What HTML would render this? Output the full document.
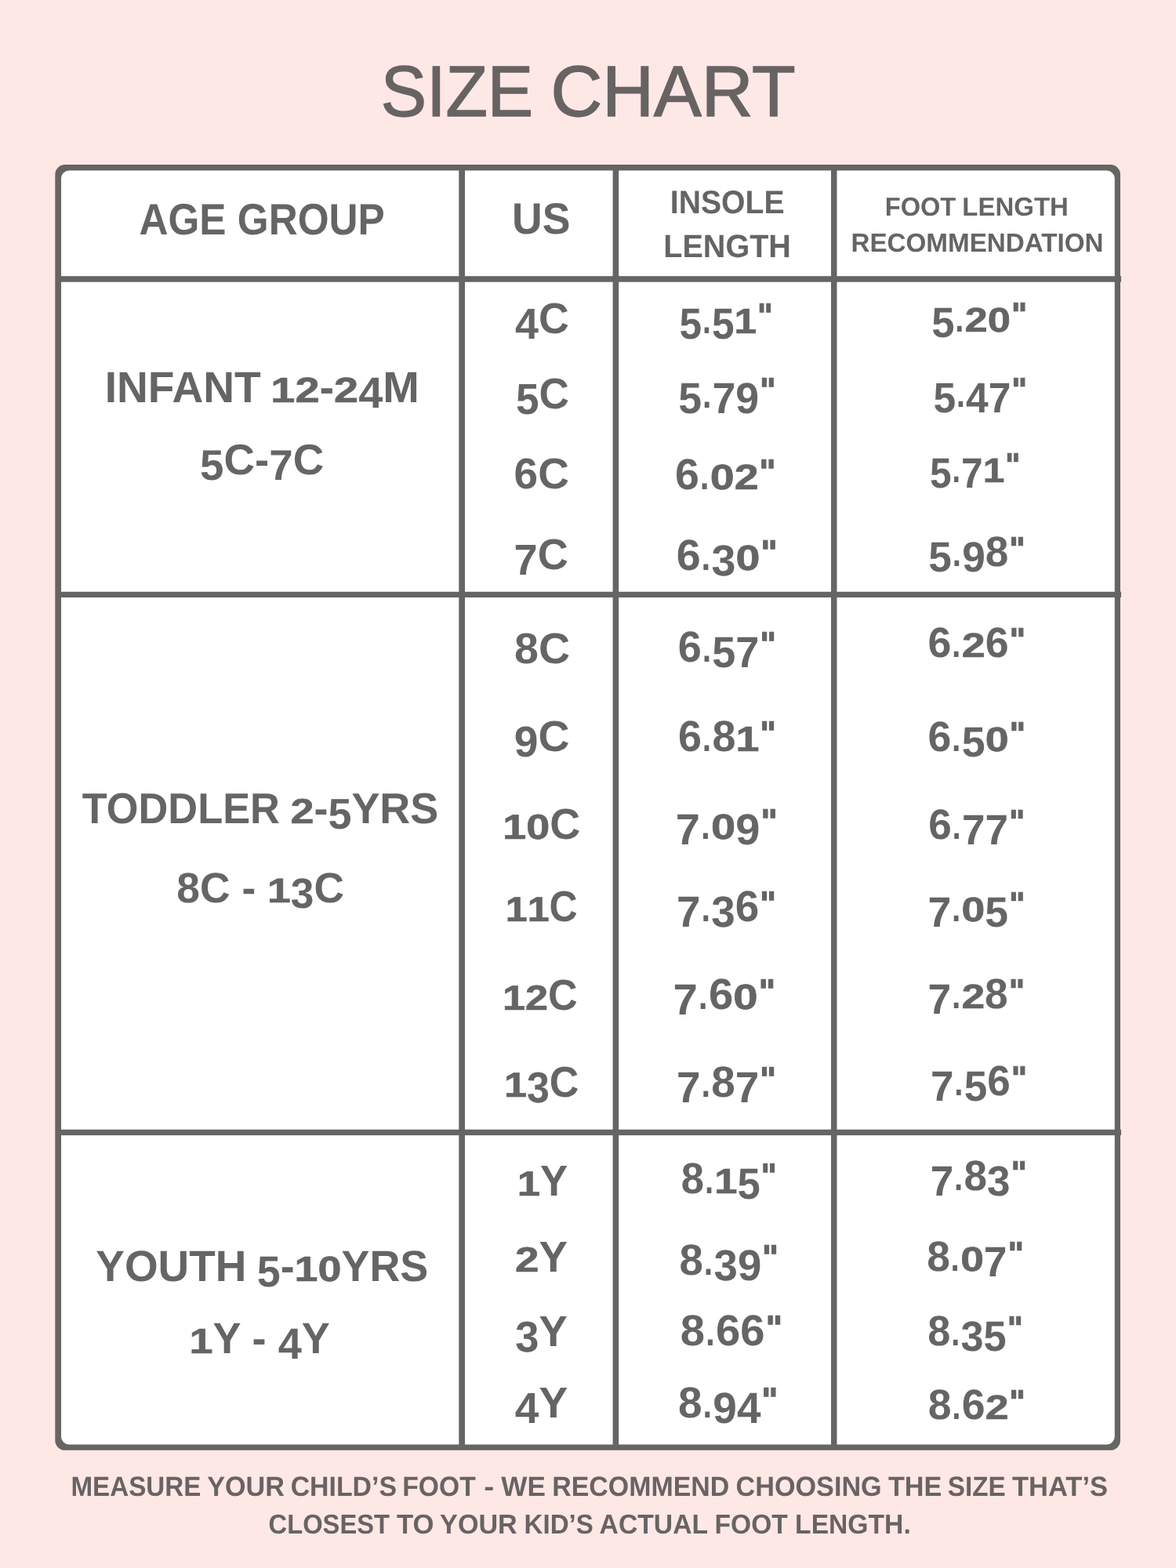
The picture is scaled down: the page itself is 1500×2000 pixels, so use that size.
<!DOCTYPE html>
<html lang="en">
<head>
<meta charset="utf-8">
<title>Size Chart</title>
<style>
html,body{margin:0;padding:0}
body{width:1500px;height:2000px;background:#fee8e6;position:relative;overflow:hidden;font-family:"Liberation Sans",sans-serif;color:#666464;text-rendering:geometricPrecision}
.grid{position:absolute;left:0;top:0;display:block}
.t{position:absolute;left:0;top:0;margin:0;white-space:nowrap;line-height:1;font-weight:700;transform-origin:0 0}
.tt{font-weight:400;color:#686363;-webkit-text-stroke:1.5px #686363}
.ft{color:#696363}
.w{display:inline-block;transform-origin:0 50%}
.x{display:inline-block;transform:scale(1,.81);transform-origin:50% 84.67%;-webkit-text-stroke:.8px #666464}
.d{position:relative;top:.128em}
.p{display:inline-block;transform:scale(.76,.9);transform-origin:50% 84.67%;margin:0 -.007em 0 -.0215em}
.q{display:inline-block;font-family:"DejaVu Sans","Liberation Sans",sans-serif;font-size:.705em;line-height:1;position:relative;top:-.23em;transform:scaleX(1.1);transform-origin:0 50%;-webkit-text-stroke:1.2px #666464}
</style>
</head>
<body>
<svg class="grid" width="1500" height="2000" viewBox="0 0 1500 2000" aria-hidden="true">
<rect x="74" y="214" width="1351" height="1632" rx="11" fill="#ffffff"/>
<path fill-rule="evenodd" fill="#676464" d="M82.8 210.0H1416.5A12.5 12.5 0 0 1 1429.0 222.5V1837.3A12.5 12.5 0 0 1 1416.5 1849.8H82.8A12.5 12.5 0 0 1 70.3 1837.3V222.5A12.5 12.5 0 0 1 82.8 210.0ZM88.2 217.4A10.2 10.2 0 0 0 78.0 227.6V1832.39A10.2 10.2 0 0 0 88.2 1842.6H1411.6A10.2 10.2 0 0 0 1421.8 1832.39V227.6A10.2 10.2 0 0 0 1411.6 217.4Z"/>
<g fill="#676464">
<rect x="585.3" y="214" width="7.7" height="1632"/>
<rect x="781.6" y="210" width="7.6" height="1636"/>
<rect x="1060" y="214" width="7.5" height="1632"/>
<rect x="72" y="352.2" width="1358" height="7.5"/>
<rect x="72" y="754.8" width="1358" height="7.3"/>
<rect x="72" y="1440.7" width="1358" height="7.4"/>
</g>
</svg>
<h1 class="t tt" style="font-size:91.70px;transform:translate(489.20px,71.95px)"><span class="w" style="transform:translateX(-3.38px) scaleX(0.9534)">SIZE</span> <span class="w" style="transform:translateX(-15.63px) scaleX(0.9933)">CHART</span></h1>
<div class="t" style="font-size:56.09px;transform:translate(177.45px,251.95px) scaleX(0.9142)">AGE GROUP</div>
<div class="t" style="font-size:55.86px;transform:translate(653.00px,250.95px) scaleX(0.9590)">US</div>
<div class="t" style="font-size:41.55px;transform:translate(854.80px,236.95px) scaleX(0.9423)">INSOLE</div>
<div class="t" style="font-size:41.12px;transform:translate(846.27px,293.95px) scaleX(0.9625)">LENGTH</div>
<div class="t" style="font-size:33.20px;transform:translate(1131.00px,247.95px)"><span class="w" style="transform:translateX(-2.26px) scaleX(0.9820)">FOOT</span> <span class="w" style="transform:translateX(-4.64px) scaleX(0.9935)">LENGTH</span></div>
<div class="t" style="font-size:33.28px;transform:translate(1085.46px,293.95px) scaleX(0.9979)">RECOMMENDATION</div>
<div class="t" aria-label="INFANT 12-24M" style="font-size:55.62px;transform:translate(137.30px,466.95px)"><span class="w" style="transform:translateX(-3.59px) scaleX(0.9915)">INFANT</span> <span class="w" style="transform:translateX(-8.01px) scaleX(1.0049)"><span class="x">1</span><span class="x">2</span>-<span class="x">2</span><span class="d">4</span>M</span></div>
<div class="t" aria-label="5C-7C" style="font-size:54.64px;transform:translate(255.00px,559.95px) scaleX(1.0024)"><span class="d">5</span>C-<span class="d">7</span>C</div>
<div class="t" aria-label="TODDLER 2-5YRS" style="font-size:55.01px;transform:translate(105.40px,1003.95px)"><span class="w" style="transform:translateX(-0.69px) scaleX(0.9523)">TODDLER</span> <span class="w" style="transform:translateX(-14.93px) scaleX(0.9801)"><span class="x">2</span>-<span class="d">5</span>YRS</span></div>
<div class="t" aria-label="8C - 13C" style="font-size:54.20px;transform:translate(225.34px,1105.95px) scaleX(0.9853)">8C - <span class="x">1</span><span class="d">3</span>C</div>
<div class="t" aria-label="YOUTH 5-10YRS" style="font-size:55.65px;transform:translate(123.60px,1587.95px)"><span class="w" style="transform:translateX(-1.26px) scaleX(0.9861)">YOUTH</span> <span class="w" style="transform:translateX(-5.94px) scaleX(0.9682)"><span class="d">5</span>-<span class="x">1</span><span class="x">0</span>YRS</span></div>
<div class="t" aria-label="1Y - 4Y" style="font-size:55.62px;transform:translate(241.41px,1679.95px) scaleX(0.9723)"><span class="x">1</span>Y - <span class="d">4</span>Y</div>
<div class="t" aria-label="4C" style="font-size:55.26px;transform:translate(657.06px,378.95px) scaleX(0.9715)"><span class="d">4</span>C</div>
<div class="t" aria-label="5C" style="font-size:55.26px;transform:translate(657.94px,474.95px) scaleX(0.9617)"><span class="d">5</span>C</div>
<div class="t" aria-label="6C" style="font-size:55.26px;transform:translate(655.60px,576.95px) scaleX(0.9940)">6C</div>
<div class="t" aria-label="7C" style="font-size:55.26px;transform:translate(655.57px,679.95px) scaleX(0.9793)"><span class="d">7</span>C</div>
<div class="t" aria-label="8C" style="font-size:55.26px;transform:translate(656.01px,799.95px) scaleX(1.0052)">8C</div>
<div class="t" aria-label="9C" style="font-size:55.26px;transform:translate(655.76px,911.95px) scaleX(1.0006)"><span class="d">9</span>C</div>
<div class="t" aria-label="10C" style="font-size:55.26px;transform:translate(641.21px,1023.95px) scaleX(0.9764)"><span class="x">1</span><span class="x">0</span>C</div>
<div class="t" aria-label="11C" style="font-size:55.26px;transform:translate(644.83px,1128.95px) scaleX(0.9063)"><span class="x">1</span><span class="x">1</span>C</div>
<div class="t" aria-label="12C" style="font-size:55.26px;transform:translate(640.94px,1241.95px) scaleX(0.9446)"><span class="x">1</span><span class="x">2</span>C</div>
<div class="t" aria-label="13C" style="font-size:55.26px;transform:translate(642.95px,1352.95px) scaleX(0.9417)"><span class="x">1</span><span class="d">3</span>C</div>
<div class="t" aria-label="1Y" style="font-size:55.26px;transform:translate(659.79px,1478.95px) scaleX(0.9528)"><span class="x">1</span>Y</div>
<div class="t" aria-label="2Y" style="font-size:55.26px;transform:translate(657.07px,1575.95px) scaleX(0.9913)"><span class="x">2</span>Y</div>
<div class="t" aria-label="3Y" style="font-size:55.26px;transform:translate(657.32px,1670.95px) scaleX(0.9840)"><span class="d">3</span>Y</div>
<div class="t" aria-label="4Y" style="font-size:55.26px;transform:translate(656.76px,1761.95px) scaleX(0.9964)"><span class="d">4</span>Y</div>
<div class="t" aria-label="5.51&quot;" style="font-size:55.62px;transform:translate(866.48px,378.95px) scaleX(0.9244)"><span class="d">5</span><span class="p">.</span><span class="d">5</span><span class="x">1</span><span class="q">&quot;</span></div>
<div class="t" aria-label="5.79&quot;" style="font-size:55.62px;transform:translate(865.21px,473.95px) scaleX(0.9648)"><span class="d">5</span><span class="p">.</span><span class="d">7</span><span class="d">9</span><span class="q">&quot;</span></div>
<div class="t" aria-label="6.02&quot;" style="font-size:55.62px;transform:translate(860.99px,577.95px) scaleX(0.9984)">6<span class="p">.</span><span class="x">0</span><span class="x">2</span><span class="q">&quot;</span></div>
<div class="t" aria-label="6.30&quot;" style="font-size:55.62px;transform:translate(862.75px,680.95px) scaleX(0.9997)">6<span class="p">.</span><span class="d">3</span><span class="x">0</span><span class="q">&quot;</span></div>
<div class="t" aria-label="6.57&quot;" style="font-size:55.62px;transform:translate(864.67px,797.95px) scaleX(0.9721)">6<span class="p">.</span><span class="d">5</span><span class="d">7</span><span class="q">&quot;</span></div>
<div class="t" aria-label="6.81&quot;" style="font-size:55.62px;transform:translate(864.99px,911.95px) scaleX(0.9687)">6<span class="p">.</span>8<span class="x">1</span><span class="q">&quot;</span></div>
<div class="t" aria-label="7.09&quot;" style="font-size:55.62px;transform:translate(861.84px,1023.95px) scaleX(1.0077)"><span class="d">7</span><span class="p">.</span><span class="x">0</span><span class="d">9</span><span class="q">&quot;</span></div>
<div class="t" aria-label="7.36&quot;" style="font-size:55.62px;transform:translate(863.01px,1128.95px) scaleX(0.9851)"><span class="d">7</span><span class="p">.</span><span class="d">3</span>6<span class="q">&quot;</span></div>
<div class="t" aria-label="7.60&quot;" style="font-size:55.62px;transform:translate(858.52px,1240.95px) scaleX(1.0141)"><span class="d">7</span><span class="p">.</span>6<span class="x">0</span><span class="q">&quot;</span></div>
<div class="t" aria-label="7.87&quot;" style="font-size:55.62px;transform:translate(863.01px,1352.95px) scaleX(0.9851)"><span class="d">7</span><span class="p">.</span>8<span class="d">7</span><span class="q">&quot;</span></div>
<div class="t" aria-label="8.15&quot;" style="font-size:55.62px;transform:translate(868.80px,1475.95px) scaleX(0.9449)">8<span class="p">.</span><span class="x">1</span><span class="d">5</span><span class="q">&quot;</span></div>
<div class="t" aria-label="8.39&quot;" style="font-size:55.62px;transform:translate(866.52px,1579.95px) scaleX(0.9814)">8<span class="p">.</span><span class="d">3</span><span class="d">9</span><span class="q">&quot;</span></div>
<div class="t" aria-label="8.66&quot;" style="font-size:55.62px;transform:translate(867.70px,1669.95px) scaleX(1.0114)">8<span class="p">.</span>66<span class="q">&quot;</span></div>
<div class="t" aria-label="8.94&quot;" style="font-size:55.62px;transform:translate(865.03px,1761.95px) scaleX(0.9885)">8<span class="p">.</span><span class="d">9</span><span class="d">4</span><span class="q">&quot;</span></div>
<div class="t" aria-label="5.20&quot;" style="font-size:53.99px;transform:translate(1188.16px,377.95px) scaleX(0.9741)"><span class="d">5</span><span class="p">.</span><span class="x">2</span><span class="x">0</span><span class="q">&quot;</span></div>
<div class="t" aria-label="5.47&quot;" style="font-size:53.99px;transform:translate(1190.49px,473.95px) scaleX(0.9543)"><span class="d">5</span><span class="p">.</span><span class="d">4</span><span class="d">7</span><span class="q">&quot;</span></div>
<div class="t" aria-label="5.71&quot;" style="font-size:53.99px;transform:translate(1186.10px,569.95px) scaleX(0.9201)"><span class="d">5</span><span class="p">.</span><span class="d">7</span><span class="x">1</span><span class="q">&quot;</span></div>
<div class="t" aria-label="5.98&quot;" style="font-size:53.99px;transform:translate(1184.36px,676.95px) scaleX(0.9850)"><span class="d">5</span><span class="p">.</span><span class="d">9</span>8<span class="q">&quot;</span></div>
<div class="t" aria-label="6.26&quot;" style="font-size:53.99px;transform:translate(1183.48px,792.95px) scaleX(0.9949)">6<span class="p">.</span><span class="x">2</span>6<span class="q">&quot;</span></div>
<div class="t" aria-label="6.50&quot;" style="font-size:53.99px;transform:translate(1183.48px,912.95px) scaleX(0.9949)">6<span class="p">.</span><span class="d">5</span><span class="x">0</span><span class="q">&quot;</span></div>
<div class="t" aria-label="6.77&quot;" style="font-size:53.99px;transform:translate(1184.28px,1024.95px) scaleX(0.9829)">6<span class="p">.</span><span class="d">7</span><span class="d">7</span><span class="q">&quot;</span></div>
<div class="t" aria-label="7.05&quot;" style="font-size:53.99px;transform:translate(1183.45px,1129.95px) scaleX(0.9902)"><span class="d">7</span><span class="p">.</span><span class="x">0</span><span class="d">5</span><span class="q">&quot;</span></div>
<div class="t" aria-label="7.28&quot;" style="font-size:53.99px;transform:translate(1183.46px,1240.95px) scaleX(0.9876)"><span class="d">7</span><span class="p">.</span><span class="x">2</span>8<span class="q">&quot;</span></div>
<div class="t" aria-label="7.56&quot;" style="font-size:53.99px;transform:translate(1187.07px,1351.95px) scaleX(0.9822)"><span class="d">7</span><span class="p">.</span><span class="d">5</span>6<span class="q">&quot;</span></div>
<div class="t" aria-label="7.83&quot;" style="font-size:53.99px;transform:translate(1186.84px,1472.95px) scaleX(0.9820)"><span class="d">7</span><span class="p">.</span>8<span class="d">3</span><span class="q">&quot;</span></div>
<div class="t" aria-label="8.07&quot;" style="font-size:53.99px;transform:translate(1182.18px,1575.95px) scaleX(0.9884)">8<span class="p">.</span><span class="x">0</span><span class="d">7</span><span class="q">&quot;</span></div>
<div class="t" aria-label="8.35&quot;" style="font-size:53.99px;transform:translate(1183.34px,1670.95px) scaleX(0.9691)">8<span class="p">.</span><span class="d">3</span><span class="d">5</span><span class="q">&quot;</span></div>
<div class="t" aria-label="8.62&quot;" style="font-size:53.99px;transform:translate(1183.71px,1764.95px) scaleX(0.9919)">8<span class="p">.</span>6<span class="x">2</span><span class="q">&quot;</span></div>
<p class="t ft" style="font-size:35.30px;transform:translate(92.70px,1878.95px)"><span class="w" style="transform:translateX(-2.30px) scaleX(0.9400)">MEASURE</span> <span class="w" style="transform:translateX(-14.50px) scaleX(0.9690)">YOUR</span> <span class="w" style="transform:translateX(-20.06px) scaleX(0.9586)">CHILD’S</span> <span class="w" style="transform:translateX(-28.43px) scaleX(0.9536)">FOOT</span> <span class="w" style="transform:translateX(-32.42px) scaleX(1.1119)">-</span> <span class="w" style="transform:translateX(-32.35px) scaleX(0.9961)">WE</span> <span class="w" style="transform:translateX(-33.53px) scaleX(0.9607)">RECOMMEND</span> <span class="w" style="transform:translateX(-44.14px) scaleX(0.9683)">CHOOSING</span> <span class="w" style="transform:translateX(-51.72px) scaleX(0.9687)">THE</span> <span class="w" style="transform:translateX(-56.87px) scaleX(0.9410)">SIZE</span> <span class="w" style="transform:translateX(-62.78px) scaleX(0.9788)">THAT’S</span></p>
<p class="t ft" style="font-size:34.90px;transform:translate(343.80px,1927.95px)"><span class="w" style="transform:translateX(-1.25px) scaleX(0.9378)">CLOSEST</span> <span class="w" style="transform:translateX(-11.75px) scaleX(0.9927)">TO</span> <span class="w" style="transform:translateX(-14.68px) scaleX(0.9781)">YOUR</span> <span class="w" style="transform:translateX(-18.19px) scaleX(0.9488)">KID’S</span> <span class="w" style="transform:translateX(-24.21px) scaleX(0.9658)">ACTUAL</span> <span class="w" style="transform:translateX(-30.24px) scaleX(0.9619)">FOOT</span> <span class="w" style="transform:translateX(-34.71px) scaleX(0.9642)">LENGTH.</span></p>
</body>
</html>
